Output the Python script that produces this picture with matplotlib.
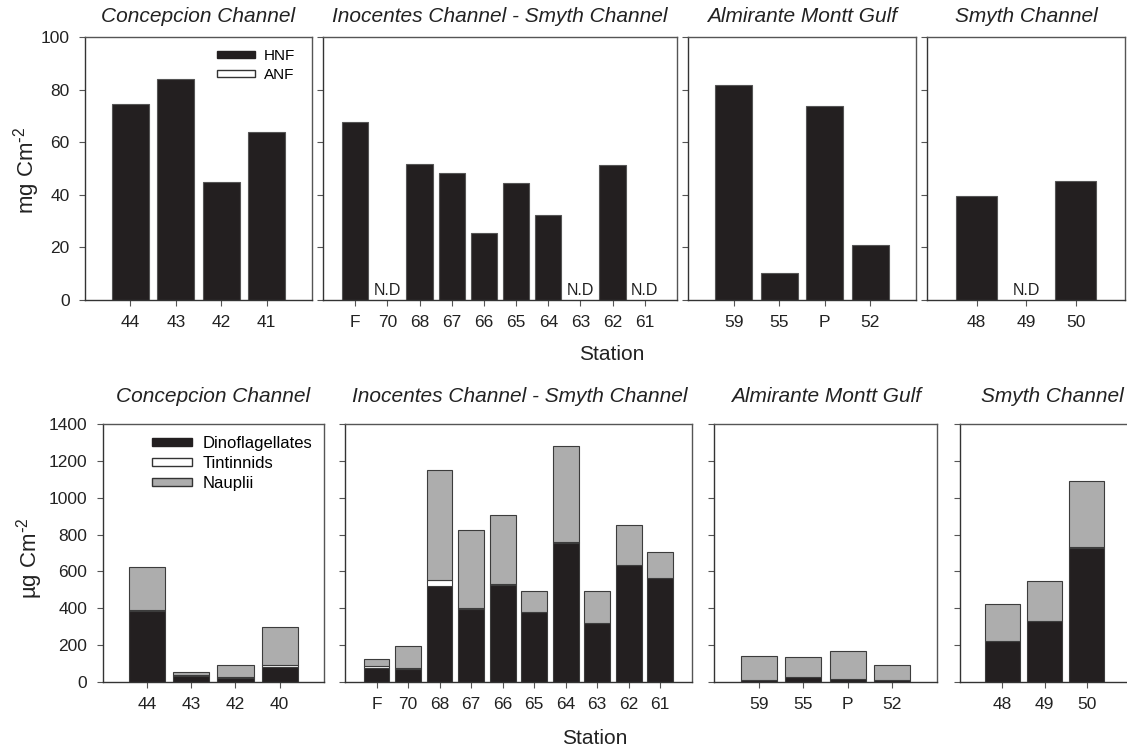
import numpy as np
import matplotlib
matplotlib.use("Agg")
import matplotlib.pyplot as plt
from matplotlib.patches import Patch

plt.rcParams['font.family'] = ['Liberation Sans', 'DejaVu Sans']

# ---------------- data ----------------
region_titles = ["Concepcion Channel", "Inocentes Channel - Smyth Channel",
                 "Almirante Montt Gulf", "Smyth Channel"]

# top row: nanoflagellates (mg C m-2), None = N.D
top_stations = [["44", "43", "42", "41"],
                ["F", "70", "68", "67", "66", "65", "64", "63", "62", "61"],
                ["59", "55", "P", "52"],
                ["48", "49", "50"]]
hnf_conc = [74.6, 83.9, 45.0, 63.7]
hnf_inoc = [67.6, None, 51.7, 48.3, 25.5, 44.5, 32.2, None, 51.3, None]
hnf_alm = [81.6, 10.4, 73.9, 20.9]
hnf_smy = [39.5, None, 45.2]
hnf_all = [hnf_conc, hnf_inoc, hnf_alm, hnf_smy]

# bottom row: microzooplankton (ug C m-2)
bot_stations = [["44", "43", "42", "40"],
                ["F", "70", "68", "67", "66", "65", "64", "63", "62", "61"],
                ["59", "55", "P", "52"],
                ["48", "49", "50"]]
dino_conc = [383, 32, 22, 82]
tint_conc = [8, 4, 4, 10]
naup_conc = [231, 15, 63, 207]
dino_inoc = [76, 67, 522, 394, 526, 377, 756, 318, 633, 562]
tint_inoc = [10, 10, 31, 8, 3, 2, 2, 2, 2, 2]
naup_inoc = [39, 117, 600, 425, 379, 116, 525, 175, 215, 143]
dino_alm = [9, 25, 15, 7]
tint_alm = [2, 2, 2, 2]
naup_alm = [127, 106, 148, 80]
dino_smy = [220, 328, 729]
tint_smy = [2, 2, 2]
naup_smy = [202, 216, 360]
dino_all = [dino_conc, dino_inoc, dino_alm, dino_smy]
tint_all = [tint_conc, tint_inoc, tint_alm, tint_smy]
naup_all = [naup_conc, naup_inoc, naup_alm, naup_smy]

# ---------------- style ----------------
W, H = 1127, 751
DARK = "#231f20"
GRAY = "#adadad"
EDGE = "#3c3c3c"
SPINE = "#555555"
TXT = "#222222"

fig = plt.figure(figsize=(W / 100, H / 100), dpi=100)


def px_axes(left, right, top, bottom):
    return fig.add_axes([left / W, 1 - bottom / H, (right - left) / W, (bottom - top) / H])


def style(ax, labels, ylim, yticks, show_ylabels):
    ax.set_xlim(-1, len(labels))
    ax.set_ylim(*ylim)
    ax.set_xticks(range(len(labels)))
    ax.set_xticklabels(labels)
    ax.set_yticks(yticks)
    if not show_ylabels:
        ax.set_yticklabels([])
    ax.tick_params(axis='both', direction='out', length=4, width=0.8,
                   colors=SPINE, labelcolor=TXT, labelsize=12.5, pad=7)
    for s in ax.spines.values():
        s.set_color(SPINE)
        s.set_linewidth(1.0)
    ax.spines['left'].set_color("#333333")
    ax.spines['bottom'].set_color("#333333")


def unit_label(prefix):
    return prefix + " Cm$^{\\mathregular{\\text{-}2}}$"


# top row
top_boxes = [(85, 312), (323, 677), (688, 916), (927, 1125)]
for i, (l, r) in enumerate(top_boxes):
    ax = px_axes(l, r, 37, 300)
    vals = hnf_all[i]
    x = np.arange(len(vals))
    h = [np.nan if v is None else v for v in vals]
    ax.bar(x, h, width=0.82, color=DARK, edgecolor="#555555", linewidth=0.8)
    for xi, v in zip(x, vals):
        if v is None:
            ax.text(xi, 0.8, "N.D", ha='center', va='bottom', fontsize=11.5, color=TXT)
    style(ax, top_stations[i], (0, 100), np.arange(0, 101, 20), i == 0)
    ax.set_title(region_titles[i], fontsize=15, style='italic', color=TXT, pad=11)
    if i == 0:
        handles = [Patch(facecolor=DARK, edgecolor=DARK, label="HNF"),
                   Patch(facecolor="white", edgecolor="#333333", label="ANF")]
        ax.legend(handles=handles, loc='upper left', bbox_to_anchor=(0.58, 0.955),
                  frameon=False, fontsize=11, handlelength=2.5, handleheight=0.3,
                  handletextpad=0.6, labelspacing=0.35, borderpad=0, borderaxespad=0)

fig.text(27 / W, 1 - 170 / H, unit_label("mg"), rotation=90, ha='center', va='center',
         fontsize=16, color=TXT)
fig.text(612 / W, 1 - 355 / H, "Station", ha='center', va='center', fontsize=15, color=TXT)

# bottom row
bot_boxes = [(102.7, 324), (345, 691.7), (714.3, 936.7), (960, 1129)]
bot_title_x = [213, 520, 826, 1052]
for i, (l, r) in enumerate(bot_boxes):
    ax = px_axes(l, r, 424.3, 681.7)
    d = np.array(dino_all[i], float)
    t = np.array(tint_all[i], float)
    n = np.array(naup_all[i], float)
    x = np.arange(len(d))
    ax.bar(x, d, width=0.82, color=DARK, edgecolor=EDGE, linewidth=0.8)
    ax.bar(x, t, bottom=d, width=0.82, color="white", edgecolor=EDGE, linewidth=0.8)
    ax.bar(x, n, bottom=d + t, width=0.82, color=GRAY, edgecolor=EDGE, linewidth=0.8)
    style(ax, bot_stations[i], (0, 1400), np.arange(0, 1401, 200), i == 0)
    fig.text(bot_title_x[i] / W, 1 - 397 / H, region_titles[i], ha='center', va='center',
             fontsize=15, style='italic', color=TXT)
    if i == 0:
        handles = [Patch(facecolor=DARK, edgecolor=DARK, label="Dinoflagellates"),
                   Patch(facecolor="white", edgecolor="#333333", label="Tintinnids"),
                   Patch(facecolor=GRAY, edgecolor="#333333", label="Nauplii")]
        ax.legend(handles=handles, loc='upper left', bbox_to_anchor=(0.225, 0.955),
                  frameon=False, fontsize=12, handlelength=2.4, handleheight=0.3,
                  handletextpad=0.6, labelspacing=0.3, borderpad=0, borderaxespad=0)

fig.text(30 / W, 1 - 558 / H, unit_label("\u00b5g"), rotation=90, ha='center', va='center',
         fontsize=16, color=TXT)
fig.text(595 / W, 1 - 739 / H, "Station", ha='center', va='center', fontsize=15, color=TXT)

fig.savefig("out.png", dpi=100)
